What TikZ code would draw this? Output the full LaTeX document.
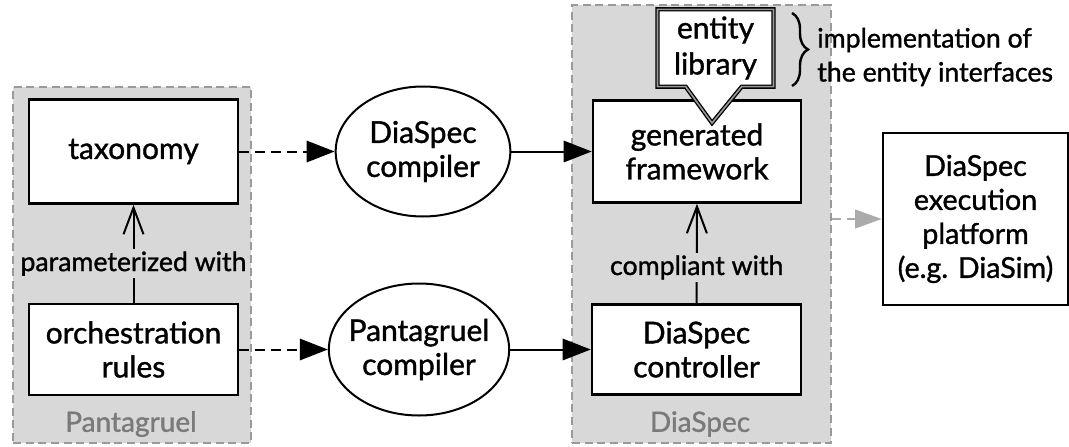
\documentclass[tikz,border=0pt]{standalone}
\usepackage{fontspec}
\setmainfont{Lato}[FakeBold=1.2]
\usetikzlibrary{arrows.meta,shapes.geometric,shapes.callouts,decorations.pathreplacing}
\definecolor{grpfill}{HTML}{D8D8D8}
\definecolor{grpline}{HTML}{9A9A9A}
\definecolor{grptext}{HTML}{7A7A7A}
\definecolor{lightarrow}{HTML}{ABABAB}
\tikzset{
  grp/.style={draw=grpline, fill=grpfill, line width=0.8pt, dash pattern=on 6pt off 3.5pt, inner sep=0pt},
  grplabel/.style={text=grptext, inner sep=0pt, font=\fontsize{21}{25.5}\selectfont},
  nodetext/.style={font=\fontsize{22.5}{25.5}\selectfont},
  box/.style={nodetext, draw, fill=white, line width=1.9pt, align=center, inner sep=0pt},
  comp/.style={nodetext, ellipse, draw, fill=white, line width=1.5pt, align=center, inner xsep=-5pt, inner ysep=0pt},
  flow/.style={line width=1.5pt, -{Triangle[length=21pt,width=16pt]}},
  dflow/.style={flow, dash pattern=on 7.5pt off 4.5pt},
  rel/.style={line width=1.5pt, -{Straight Barb[length=20pt,width=15pt,line width=1.5pt]}},
  rellabel/.style={fill=grpfill, inner sep=2pt},
}
\begin{document}
\begin{tikzpicture}[x=0.75pt,y=-0.75pt, font=\fontsize{20}{25.5}\selectfont]
\useasboundingbox (0,0) rectangle (1069,446);
% groups
\node[grp, minimum width=178.5pt, minimum height=267pt] (pgrp) at (132,265) {};
\node[grp, minimum width=194.25pt, minimum height=328.5pt] (dgrp) at (701.5,224) {};
\node[grplabel] (plabel) at (131,424) {Pantagruel};
\node[grplabel] (dlabel) at (700,424) {DiaSpec};
% boxes
\node[box, minimum width=156.75pt, minimum height=78pt] (tax) at (133.5,151.5) {taxonomy};
\node[box, minimum width=156.75pt, minimum height=68.25pt] (orch) at (133.5,349.5) {orchestration\\rules};
\node[comp, minimum width=131pt, minimum height=97.5pt] (dcomp) at (423,151.5) {DiaSpec\\compiler};
\node[comp, minimum width=129pt, minimum height=99pt] (pcomp) at (419,349.5) {Pantagruel\\compiler};
\node[box, minimum width=156pt, minimum height=76.5pt] (fw) at (697,151.5) {generated\\framework};
\node[box, minimum width=156.75pt, minimum height=67.5pt] (ctrl) at (696.5,349.5) {DiaSpec\\controller};
\node[box, font=\fontsize{21.5}{25.5}\selectfont, minimum width=138.75pt, minimum height=129pt] (plat) at (975.5,219) {DiaSpec\\execution\\platform\\(e.g. DiaSim)};
\node[rectangle callout, draw, fill=white, line width=1pt, double=grpline, double distance=1.2pt,
      font=\fontsize{22.5}{27}\selectfont,
      minimum width=87pt, minimum height=58pt, align=center, inner sep=0pt,
      callout absolute pointer={(712,123)}, callout pointer width=42pt] (lib) at (715.5,48) {entity\\library};
% brace
\coordinate (bt) at (792,13);
\coordinate (bb) at (792,86);
\draw[line width=1.8pt, decorate, decoration={brace, amplitude=12pt}] (bt) -- (bb);
\node[anchor=west, align=left, inner sep=0pt] (impl) at (817,57) {implementation of\\the entity interfaces};
% connectors
\draw[dflow] (tax.east) -- (dcomp.west);
\draw[dflow] (orch.east) -- (orch.east -| pcomp.west);
\draw[flow] (dcomp.east) -- (fw.west);
\draw[flow] (pcomp.east) -- (pcomp.east -| ctrl.west);
\draw[rel] (orch.north) -- node[rellabel, pos=0.4] (pw) {parameterized with} (tax.south);
\draw[rel] (ctrl.north) -- node[rellabel, pos=0.36] (cw) {compliant with} (fw.south);
\draw[line width=1.5pt, draw=lightarrow, dash pattern=on 7pt off 4.5pt, -{Triangle[length=20pt,width=14pt]}] (plat.west -| dgrp.east) -- (plat.west);
\end{tikzpicture}
\end{document}
